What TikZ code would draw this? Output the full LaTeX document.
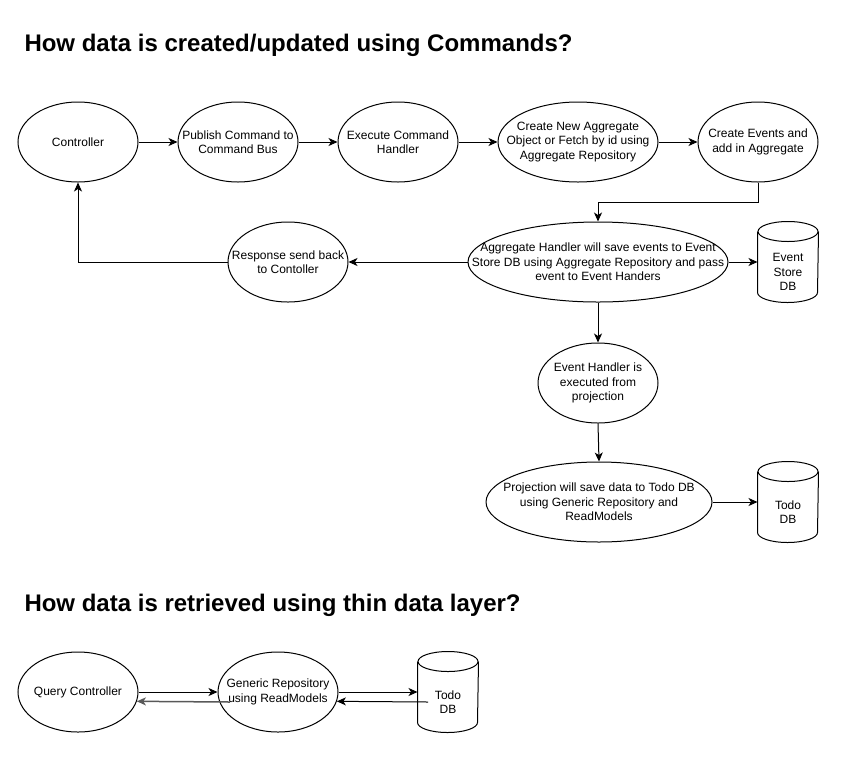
\documentclass[tikz,border=0pt]{standalone}
\usepackage{fontspec}
\setmainfont{Liberation Sans}
\usetikzlibrary{arrows.meta,calc,shapes.geometric}
\newcommand\cylout[1]{%
  \draw ($(#1.north west)+(0,-10)$) -- ($(#1.south west)+(0,10)$)
    arc[start angle=180,end angle=360,x radius=30pt,y radius=10pt]
    -- ($(#1.north east)+(0,-10)$);
  \draw ($(#1.north)+(0,-10)$) ellipse [x radius=30pt, y radius=10pt];}
\begin{document}
\begin{tikzpicture}[x=1pt,y=1pt,line width=1pt,
  ell/.style={draw, ellipse, inner xsep=-40pt, inner ysep=0pt, minimum width=120pt,
    minimum height=80pt, align=center, font=\fontsize{12}{14.4}\selectfont},
  cyl/.style={minimum width=60pt, minimum height=80pt, inner sep=0pt},
  cyltext/.style={align=center, font=\fontsize{12}{14.4}\selectfont, yshift=-10pt, inner sep=0pt},
  arr/.style={-{Stealth[length=9pt,width=8pt,inset=2.5pt]}},
  ttl/.style={anchor=base west, inner sep=0pt, font=\fontsize{24}{28}\selectfont\bfseries}]
\useasboundingbox (0,0) rectangle (856,-756);

\node[ttl] (t1) at (24,-51) {How data is created/updated using Commands?};
\node[ttl] (t2) at (24,-611) {How data is retrieved using thin data layer?};

\node[ell] (ctrl) at (78,-142) {Controller};
\node[ell] (pub) at (238,-142) {Publish Command to\\Command Bus};
\node[ell] (exe) at (398,-142) {Execute Command\\Handler};
\node[ell, minimum width=160pt] (cna) at (578,-142) {Create New Aggregate\\Object or Fetch by id using\\Aggregate Repository};
\node[ell] (cev) at (758,-142) {Create Events and\\add in Aggregate};
\node[ell, minimum width=260pt] (ah) at (598,-262) {Aggregate Handler will save events to Event\\Store DB using Aggregate Repository and pass\\event to Event Handers};
\node[cyl, label={[cyltext]center:{Event\\Store\\DB}}] (es) at (788,-262) {};
\node[ell] (resp) at (288,-262) {Response send back\\to Contoller};
\node[ell] (eh) at (598,-383) {Event Handler is\\executed from\\projection};
\node[ell, minimum width=226pt] (proj) at (599,-502) {Projection will save data to Todo DB\\using Generic Repository and\\ReadModels};
\node[cyl, label={[cyltext]center:{Todo\\DB}}] (todo) at (788,-502) {};

\node[ell] (qc) at (78,-692) {Query Controller};
\node[ell] (gr) at (278,-692) {Generic Repository\\using ReadModels};
\node[cyl, label={[cyltext]center:{Todo\\DB}}] (tdb) at (448,-692) {};

\cylout{es}
\cylout{todo}
\cylout{tdb}

\draw[arr] (ctrl.east) -- (pub.west);
\draw[arr] (pub.east) -- (exe.west);
\draw[arr] (exe.east) -- (cna.west);
\draw[arr] (cna.east) -- (cev.west);
\draw[arr] (cev.south) -- ++(0,-20) -| (ah.north);
\draw[arr] (ah.east) -- (es.west);
\draw[arr] (ah.west) -- (resp.east);
\draw[arr] (resp.west) -| (ctrl.south);
\draw[arr] (ah.south) -- (eh.north);
\draw[arr] (eh.south) -- (proj.north);
\draw[arr] (proj.east) -- (todo.west);

\coordinate (grin) at (230,-702);
\coordinate (tdbin) at (428,-702);
\draw[arr] (qc.east) -- (gr.west);
\draw[arr, draw=black!65, line width=1.5pt] (grin) -- (qc.-9.8);
\draw[arr] (gr.east) -- (tdb.west);
\draw[arr] (tdbin) -- (gr.-9.8);
\end{tikzpicture}
\end{document}
